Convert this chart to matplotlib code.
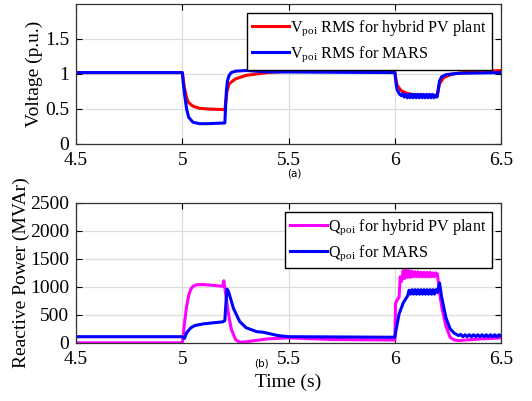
import numpy as np
import matplotlib
matplotlib.use('Agg')
import matplotlib.pyplot as plt

# ---- data ----
# (a) voltage at POI, p.u.
t_v_pv = [4.5, 5.0, 5.005, 5.01, 5.02, 5.03, 5.05, 5.08, 5.12, 5.2, 5.205, 5.21, 5.22,
          5.25, 5.3, 5.4, 5.5, 5.6, 6.0, 6.005, 6.01, 6.03, 6.06, 6.1, 6.2, 6.205, 6.21,
          6.23, 6.27, 6.35, 6.5]
v_pv = [1.02, 1.02, 0.9, 0.8, 0.66, 0.59, 0.54, 0.51, 0.50, 0.49, 0.62, 0.75, 0.86,
        0.93, 0.98, 1.02, 1.04, 1.04, 1.03, 0.92, 0.84, 0.76, 0.72, 0.70, 0.69, 0.78, 0.86,
        0.95, 1.0, 1.03, 1.05]

t_v_mars = [4.5, 5.0, 5.005, 5.01, 5.02, 5.03, 5.05, 5.08, 5.12, 5.2, 5.203, 5.207, 5.212,
            5.22, 5.23, 5.25, 5.3, 5.4, 6.0, 6.005, 6.01, 6.02, 6.03,
            6.037, 6.044, 6.051, 6.058, 6.065, 6.072, 6.079, 6.086, 6.093, 6.1,
            6.107, 6.114, 6.121, 6.128, 6.135, 6.142, 6.149, 6.156, 6.163, 6.17,
            6.177, 6.184, 6.191, 6.198,
            6.205, 6.21, 6.22, 6.24, 6.3, 6.5]
v_mars = [1.02, 1.02, 0.85, 0.72, 0.5, 0.38, 0.31, 0.29, 0.29, 0.30, 0.5, 0.75, 0.9,
          0.98, 1.02, 1.04, 1.05, 1.03, 1.02, 0.88, 0.78, 0.72, 0.69,
          0.72, 0.67, 0.71, 0.66, 0.71, 0.66, 0.71, 0.66, 0.71, 0.66,
          0.71, 0.66, 0.71, 0.66, 0.71, 0.66, 0.71, 0.66, 0.71, 0.66,
          0.71, 0.66, 0.70, 0.67,
          0.8, 0.9, 0.96, 0.99, 1.01, 1.02]

# (b) reactive power at POI, MVAr
t_q_pv = [4.5, 5.0, 5.005, 5.01, 5.02, 5.03, 5.04, 5.05, 5.07, 5.1, 5.14, 5.19, 5.195,
          5.2, 5.21, 5.22, 5.23, 5.25, 5.27, 5.3, 5.4, 5.5, 5.7, 6.0, 6.003, 6.01, 6.02,
          6.025, 6.032, 6.039, 6.046, 6.053, 6.06, 6.067, 6.074, 6.081, 6.088, 6.095,
          6.102, 6.109, 6.116, 6.123, 6.13, 6.137, 6.144, 6.151, 6.158, 6.165, 6.172,
          6.179, 6.186, 6.193, 6.2, 6.21, 6.22, 6.24, 6.26, 6.28, 6.3, 6.4, 6.5]
q_pv = [0, 0, 150, 350, 650, 850, 960, 1010, 1040, 1040, 1030, 1010, 1110,
        980, 700, 450, 250, 60, 10, 20, 70, 90, 60, 50, 700, 760, 820,
        1180, 1100, 1290, 1150, 1300, 1170, 1290, 1170, 1280, 1180, 1270,
        1180, 1270, 1180, 1260, 1180, 1260, 1180, 1260, 1180, 1260, 1180,
        1250, 1180, 1250, 1230, 900, 650, 300, 100, 50, 40, 70, 90]

t_q_mars = [4.5, 5.0, 5.01, 5.02, 5.04, 5.06, 5.1, 5.15, 5.19, 5.2, 5.205, 5.21, 5.215,
            5.22, 5.24, 5.27, 5.3, 5.35, 5.38, 5.45, 5.5, 6.0, 6.005, 6.02, 6.04, 6.06,
            6.067, 6.074, 6.081, 6.088, 6.095, 6.102, 6.109, 6.116, 6.123, 6.13, 6.137,
            6.144, 6.151, 6.158, 6.165, 6.172, 6.179, 6.186, 6.193,
            6.2, 6.21, 6.22, 6.24, 6.26, 6.28, 6.3, 6.31, 6.32, 6.33, 6.34, 6.35, 6.36,
            6.37, 6.38, 6.39, 6.4, 6.41, 6.42, 6.43, 6.44, 6.45, 6.46, 6.47, 6.48, 6.49,
            6.5]
q_mars = [110, 110, 80, 180, 270, 310, 340, 360, 375, 400, 700, 960, 930,
          880, 620, 380, 270, 200, 190, 130, 110, 100, 220, 520, 720, 840,
          940, 870, 950, 870, 950, 870, 950, 870, 950, 870, 950,
          870, 950, 870, 950, 870, 950, 870, 950,
          900, 1070, 820, 450, 250, 170, 130, 150, 110, 145, 110, 145, 110,
          145, 110, 145, 110, 145, 110, 145, 110, 145, 110, 145, 110, 145,
          120]

plt.rcParams['font.family'] = ['Liberation Serif', 'DejaVu Serif']
plt.rcParams['mathtext.fontset'] = 'custom'
plt.rcParams['mathtext.rm'] = 'Liberation Serif'


def style_axes(ax):
    ax.grid(True, color='#dddddd', linewidth=0.9)
    ax.set_axisbelow(True)
    ax.tick_params(direction='in', top=True, right=True, labelsize=14, length=4)
    ax.tick_params(axis='x', pad=6)
    ax.tick_params(axis='y', pad=5)
    for s in ax.spines.values():
        s.set_linewidth(0.9)
        s.set_color('#333333')
    ax.set_xlim(4.5, 6.5)
    ax.set_xticks([4.5, 5, 5.5, 6, 6.5])
    ax.set_xticklabels(['4.5', '5', '5.5', '6', '6.5'])


leg_kw = dict(loc='upper right', fontsize=11.6, frameon=True, fancybox=False,
              edgecolor='black', framealpha=1, borderpad=0.35, handlelength=2.3,
              handletextpad=0.05, labelspacing=0.35, borderaxespad=0.55)

fig = plt.figure(figsize=(5.32, 4.01), dpi=100)

ax1 = fig.add_axes([0.143, 0.641, 0.799, 0.349])
ax1.plot(t_v_pv, v_pv, color='#ff0000', lw=2.2,
         label=r'V$_{\mathregular{poi}}$ RMS for hybrid PV plant')
ax1.plot(t_v_mars, v_mars, color='#0000ff', lw=2.2,
         label=r'V$_{\mathregular{poi}}$ RMS for MARS')
style_axes(ax1)
ax1.set_ylim(0, 2)
ax1.set_yticks([0, 0.5, 1, 1.5])
ax1.set_yticklabels(['0', '0.5', '1', '1.5'])
ax1.set_ylabel('Voltage (p.u.)', fontsize=14, labelpad=1)
ax1.legend(**leg_kw)
ax1.text(0.513, -0.21, '(a)', transform=ax1.transAxes, ha='center', va='center',
         fontsize=7.5, family='DejaVu Sans')

ax2 = fig.add_axes([0.143, 0.145, 0.799, 0.349])
ax2.plot(t_q_pv, q_pv, color='#ff00ff', lw=2.2,
         label=r'Q$_{\mathregular{poi}}$ for hybrid PV plant')
ax2.plot(t_q_mars, q_mars, color='#0000ff', lw=2.2,
         label=r'Q$_{\mathregular{poi}}$ for MARS')
style_axes(ax2)
ax2.set_ylim(0, 2500)
ax2.set_yticks([0, 500, 1000, 1500, 2000, 2500])
ax2.set_ylabel('Reactive Power (MVAr)', fontsize=14, labelpad=0)
ax2.set_xlabel('Time (s)', fontsize=14, labelpad=4)
ax2.legend(**leg_kw)
ax2.text(5.37, -0.145, '(b)', transform=ax2.get_xaxis_transform(), ha='center',
         va='center', fontsize=7.5, family='DejaVu Sans')

fig.savefig('out.png', dpi=100)
